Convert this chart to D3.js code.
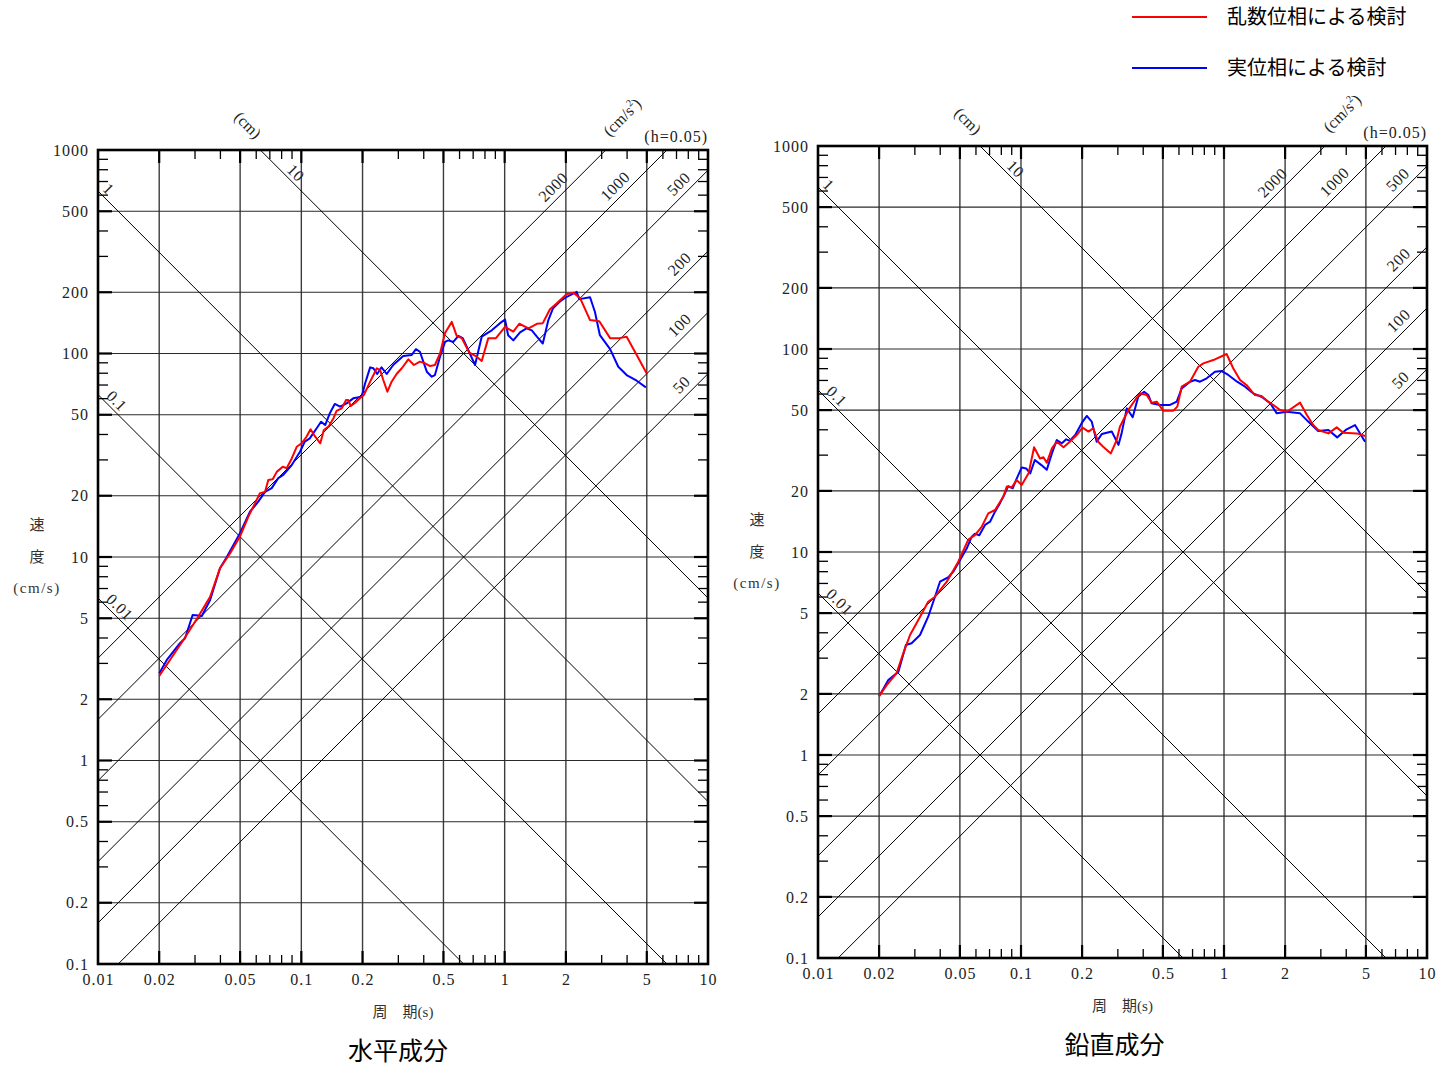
<!DOCTYPE html>
<html><head><meta charset="utf-8">
<script src="https://cdn.jsdelivr.net/npm/d3@7"></script>
<style>body{margin:0;background:#fff}svg{display:block}</style>
</head><body>
<svg id="chart" width="1439" height="1066"></svg>
<script>
// ---------------- data ----------------
const xTickValues = [0.01, 0.02, 0.05, 0.1, 0.2, 0.5, 1, 2, 5, 10];
const xTickLabels = ["0.01", "0.02", "0.05", "0.1", "0.2", "0.5", "1", "2", "5", "10"];
const yTickValues = [0.1, 0.2, 0.5, 1, 2, 5, 10, 20, 50, 100, 200, 500, 1000];
const yTickLabels = ["0.1", "0.2", "0.5", "1", "2", "5", "10", "20", "50", "100", "200", "500", "1000"];
const dispLines = [0.01, 0.1, 1, 10];            // displacement (cm)
const accLines = [2000, 1000, 500, 200, 100, 50]; // acceleration (cm/s2)
const dispLabelPeriods = [0.0128, 0.0124, 0.0113, 0.0942];
const accLabelPeriods = [1.73, 3.49, 7.16, 7.23, 7.23, 7.39];
const legendLabels = ["乱数位相による検討", "実位相による検討"];
const panelTitles = ["水平成分", "鉛直成分"];
const seriesColors = ["#ff0000", "#0000ff"];

// horizontal component: [period (s), velocity (cm/s)]
const hRandom = [[0.02,2.60],[0.0263,3.91],[0.0311,5.09],[0.0356,6.38],[0.0398,8.80],[0.0446,10.4],[0.0499,12.6],[0.0549,15.8],[0.0592,18.4],[0.0626,20.6],[0.0663,20.9],[0.0688,23.9],[0.0723,24.1],[0.0757,26.2],[0.0810,27.8],[0.0847,27.3],[0.0897,30.5],[0.0949,34.8],[0.1004,36.2],[0.106,39.0],[0.111,42.4],[0.117,39.0],[0.124,36.2],[0.129,42.1],[0.136,43.7],[0.144,48.1],[0.149,52.2],[0.158,53.8],[0.166,59.1],[0.170,59.1],[0.175,55.2],[0.184,57.3],[0.194,60.2],[0.203,62.5],[0.218,72.7],[0.235,84.6],[0.244,83.0],[0.253,74.1],[0.265,64.9],[0.278,72.7],[0.294,79.3],[0.312,84.6],[0.336,93.6],[0.358,87.8],[0.383,91.2],[0.406,89.5],[0.430,86.8],[0.454,87.8],[0.481,100],[0.509,126],[0.549,143],[0.581,122],[0.615,119],[0.670,101],[0.729,96.4],[0.771,91.9],[0.831,119],[0.906,119],[1.004,135],[1.103,128],[1.18,140],[1.31,133],[1.44,140],[1.54,141],[1.67,165],[1.80,176],[2.02,196],[2.18,199],[2.35,187],[2.63,146],[2.92,144],[3.30,119],[3.66,119],[3.98,121],[4.46,98.3],[4.99,79.9]];
const hReal = [[0.02,2.68],[0.0218,3.12],[0.0253,3.77],[0.0268,3.99],[0.0292,5.19],[0.0311,5.16],[0.0324,5.13],[0.0356,6.15],[0.0398,8.80],[0.0430,10.0],[0.0499,13.1],[0.0559,16.7],[0.0614,18.7],[0.0663,20.9],[0.0715,21.8],[0.0770,24.4],[0.0815,25.3],[0.0897,28.3],[0.0985,32.9],[0.104,36.9],[0.110,38.3],[0.119,42.9],[0.125,46.2],[0.131,44.5],[0.138,50.8],[0.146,56.5],[0.155,54.8],[0.167,56.9],[0.180,60.2],[0.198,61.3],[0.206,71.4],[0.218,85.5],[0.226,84.6],[0.236,79.3],[0.248,85.5],[0.263,79.3],[0.283,87.8],[0.317,97.2],[0.349,98.3],[0.366,105],[0.383,102],[0.414,81.4],[0.438,76.9],[0.454,78.4],[0.481,96.4],[0.509,114],[0.528,116],[0.559,114],[0.592,122],[0.622,119],[0.662,104],[0.715,87.8],[0.771,121],[0.864,130],[0.949,141],[1.004,147],[1.04,123],[1.103,116],[1.19,127],[1.28,133],[1.36,130],[1.44,121],[1.54,112],[1.64,146],[1.73,167],[1.87,180],[2.02,190],[2.26,201],[2.33,185],[2.63,189],[2.78,160],[2.94,123],[3.30,105],[3.62,86.1],[3.98,78.4],[4.46,73.5],[4.95,68.2]];
// vertical component
const vRandom = [[0.02,1.95],[0.0218,2.21],[0.0244,2.53],[0.0263,3.17],[0.0284,3.90],[0.0312,4.62],[0.0349,5.69],[0.0377,6.02],[0.0431,7.14],[0.0491,8.96],[0.0550,11.5],[0.0593,12.1],[0.0640,13.3],[0.0690,15.5],[0.0745,16.1],[0.0818,18.7],[0.0851,21.0],[0.0900,20.8],[0.0953,22.6],[0.1008,21.4],[0.109,24.4],[0.116,32.8],[0.124,28.9],[0.129,29.3],[0.134,27.5],[0.142,32.4],[0.150,34.9],[0.162,32.8],[0.174,34.9],[0.188,37.7],[0.201,41.0],[0.215,39.2],[0.227,40.7],[0.240,34.9],[0.254,33.0],[0.277,30.6],[0.296,35.6],[0.307,41.4],[0.338,50.1],[0.365,56.1],[0.386,60.5],[0.416,59.3],[0.440,54.4],[0.466,55.0],[0.502,49.7],[0.563,49.7],[0.589,52.0],[0.619,65.2],[0.680,69.0],[0.747,81.8],[0.791,85.0],[0.886,88.2],[1.03,94.5],[1.11,80.4],[1.20,70.4],[1.29,66.5],[1.42,59.3],[1.53,58.7],[1.65,55.0],[1.75,53.0],[1.89,50.1],[2.04,49.1],[2.37,54.4],[2.56,47.3],[2.75,42.2],[2.91,39.9],[3.27,38.4],[3.59,41.1],[3.87,38.7],[4.51,38.4],[4.95,37.3]];
const vReal = [[0.02,1.95],[0.0222,2.34],[0.0249,2.57],[0.0271,3.48],[0.0289,3.55],[0.0318,3.90],[0.0349,4.80],[0.0377,6.02],[0.0399,7.14],[0.0439,7.51],[0.0464,8.00],[0.0501,9.13],[0.0540,10.4],[0.0572,11.9],[0.0593,12.3],[0.0623,12.1],[0.0665,13.6],[0.0704,14.1],[0.0745,15.8],[0.0788,17.4],[0.0834,19.5],[0.0866,21.1],[0.0910,20.6],[0.0945,22.6],[0.1008,26.1],[0.106,25.8],[0.111,24.4],[0.117,28.4],[0.126,26.8],[0.134,25.4],[0.142,30.6],[0.150,35.6],[0.159,34.3],[0.167,35.9],[0.174,35.3],[0.185,37.7],[0.199,43.1],[0.211,46.8],[0.223,43.9],[0.236,34.9],[0.250,38.1],[0.280,39.2],[0.302,33.7],[0.313,38.4],[0.332,51.0],[0.355,46.1],[0.378,58.2],[0.404,61.6],[0.424,59.3],[0.440,54.0],[0.484,53.0],[0.542,53.0],[0.585,55.0],[0.619,64.0],[0.680,69.0],[0.720,70.4],[0.762,69.0],[0.822,71.7],[0.903,77.3],[0.974,77.9],[1.05,74.5],[1.16,69.0],[1.27,65.2],[1.39,60.5],[1.53,58.2],[1.69,54.0],[1.82,48.2],[2.04,49.1],[2.37,48.2],[2.60,43.9],[2.91,39.4],[3.27,39.9],[3.61,36.7],[4.02,40.2],[4.42,42.2],[4.95,34.9]];

// ---------------- drawing ----------------
const SERIF = "'Liberation Serif','Times New Roman',serif";
const CJK = "'Noto Sans CJK JP','Noto Sans',sans-serif";
const svg = d3.select("#chart");
const defs = svg.append("defs");

const panels = [
  {left: 98, right: 708, top: 150, bottom: 964, title: panelTitles[0], titleDx: -5, series: [hReal, hRandom]},
  {left: 818, right: 1427, top: 146, bottom: 958, title: panelTitles[1], titleDx: -8, series: [vReal, vRandom]}
];

const minorMult = [3, 4, 6, 7, 8, 9];
const xMinor = [0.01, 0.1, 1].flatMap(d => minorMult.map(m => d * m));
const yMinor = [0.1, 1, 10, 100].flatMap(d => minorMult.map(m => d * m));
const xMajorInner = xTickValues.slice(1, -1);
const yMajorInner = yTickValues.slice(1, -1);

panels.forEach((p, i) => {
  const g = svg.append("g");
  const x = d3.scaleLog().domain([0.01, 10]).range([p.left, p.right]);
  const y = d3.scaleLog().domain([0.1, 1000]).range([p.bottom, p.top]);
  const clipId = "clip" + i;
  defs.append("clipPath").attr("id", clipId).append("rect")
    .attr("x", p.left).attr("y", p.top).attr("width", p.right - p.left).attr("height", p.bottom - p.top);

  // grid
  g.append("g").selectAll("line").data(xTickValues).join("line")
    .attr("x1", d => x(d)).attr("x2", d => x(d)).attr("y1", p.top).attr("y2", p.bottom)
    .attr("stroke", "#3c3c3c").attr("stroke-width", 1.4);
  g.append("g").selectAll("line").data(yTickValues).join("line")
    .attr("y1", d => y(d)).attr("y2", d => y(d)).attr("x1", p.left).attr("x2", p.right)
    .attr("stroke", "#2a2a2a").attr("stroke-width", 1.2);

  // tripartite diagonals
  const dg = g.append("g").attr("clip-path", `url(#${clipId})`);
  const line2 = d3.line().x(d => x(d[0])).y(d => y(d[1]));
  const Tends = [0.001, 100];
  dispLines.forEach(sd => {
    dg.append("path").attr("d", line2(Tends.map(t => [t, 2 * Math.PI * sd / t])))
      .attr("fill", "none").attr("stroke", "#000").attr("stroke-width", 1);
  });
  accLines.forEach(sa => {
    dg.append("path").attr("d", line2(Tends.map(t => [t, sa * t / (2 * Math.PI)])))
      .attr("fill", "none").attr("stroke", "#000").attr("stroke-width", 1);
  });

  // diagonal labels
  dispLines.forEach((sd, k) => {
    const t = dispLabelPeriods[k];
    const px = x(t), py = y(2 * Math.PI * sd / t) - 13;
    g.append("text").attr("transform", `translate(${px},${py}) rotate(45)`)
      .attr("text-anchor", "middle").attr("dy", "0.35em")
      .attr("font-family", SERIF).attr("font-size", 16).attr("letter-spacing", 0.5)
      .attr("fill", "#222").text(String(sd));
  });
  accLines.forEach((sa, k) => {
    const t = accLabelPeriods[k];
    const px = x(t), py = y(sa * t / (2 * Math.PI)) - 16;
    g.append("text").attr("transform", `translate(${px},${py}) rotate(-45)`)
      .attr("text-anchor", "middle").attr("dy", "0.35em")
      .attr("font-family", SERIF).attr("font-size", 16).attr("letter-spacing", 0.5)
      .attr("fill", "#222").text(String(sa));
  });

  // minor ticks (all four sides, inward)
  const tk = g.append("g").attr("stroke", "#000").attr("stroke-width", 1.3);
  xMinor.forEach(v => {
    tk.append("line").attr("x1", x(v)).attr("x2", x(v)).attr("y1", p.top).attr("y2", p.top + 9);
    tk.append("line").attr("x1", x(v)).attr("x2", x(v)).attr("y1", p.bottom).attr("y2", p.bottom - 9);
  });
  yMinor.forEach(v => {
    tk.append("line").attr("y1", y(v)).attr("y2", y(v)).attr("x1", p.left).attr("x2", p.left + 10);
    tk.append("line").attr("y1", y(v)).attr("y2", y(v)).attr("x1", p.right).attr("x2", p.right - 10);
  });
  const mk = g.append("g").attr("stroke", "#000").attr("stroke-width", 2.2);
  xMajorInner.forEach(v => {
    mk.append("line").attr("x1", x(v)).attr("x2", x(v)).attr("y1", p.top).attr("y2", p.top + 13);
    mk.append("line").attr("x1", x(v)).attr("x2", x(v)).attr("y1", p.bottom).attr("y2", p.bottom - 13);
  });
  yMajorInner.forEach(v => {
    mk.append("line").attr("y1", y(v)).attr("y2", y(v)).attr("x1", p.left).attr("x2", p.left + 14);
    mk.append("line").attr("y1", y(v)).attr("y2", y(v)).attr("x1", p.right).attr("x2", p.right - 14);
  });

  // frame
  g.append("rect").attr("x", p.left).attr("y", p.top)
    .attr("width", p.right - p.left).attr("height", p.bottom - p.top)
    .attr("fill", "none").attr("stroke", "#000").attr("stroke-width", 2.6);

  // series
  const sLine = d3.line().x(d => x(d[0])).y(d => y(d[1]));
  p.series.forEach((s, k) => {
    g.append("path").attr("d", sLine(s)).attr("fill", "none")
      .attr("stroke", seriesColors[1 - k]).attr("stroke-width", 2)
      .attr("stroke-linejoin", "round");
  });

  // axes labels
  const ax = d3.axisBottom(x).tickValues(xTickValues).tickFormat((d, j) => xTickLabels[j])
    .tickSize(0).tickPadding(10);
  g.append("g").attr("transform", `translate(0,${p.bottom})`).call(ax)
    .call(a => a.select(".domain").remove())
    .attr("font-family", SERIF).attr("font-size", 16)
    .selectAll("text").attr("fill", "#222").attr("letter-spacing", 1);
  const ay = d3.axisLeft(y).tickValues(yTickValues).tickFormat((d, j) => yTickLabels[j])
    .tickSize(0).tickPadding(9);
  g.append("g").attr("transform", `translate(${p.left},0)`).call(ay)
    .call(a => a.select(".domain").remove())
    .attr("font-family", SERIF).attr("font-size", 16)
    .selectAll("text").attr("fill", "#222").attr("letter-spacing", 1);

  // unit labels
  g.append("text").attr("transform", `translate(${p.left + 150},${p.top - 25}) rotate(45)`)
    .attr("text-anchor", "middle").attr("dy", "0.35em")
    .attr("font-family", SERIF).attr("font-size", 16).attr("fill", "#222").text("(cm)");
  const acc = g.append("text").attr("transform", `translate(${p.left + 524},${p.top - 33}) rotate(-45)`)
    .attr("text-anchor", "middle").attr("dy", "0.35em")
    .attr("font-family", SERIF).attr("font-size", 16).attr("fill", "#222");
  acc.append("tspan").text("(cm/s");
  acc.append("tspan").attr("font-size", 10).attr("dy", "-0.7em").text("2");
  acc.append("tspan").attr("dy", "0.45em").text(")");
  g.append("text").attr("x", p.right).attr("y", p.top - 8)
    .attr("text-anchor", "end").attr("font-family", SERIF).attr("font-size", 16)
    .attr("letter-spacing", 1).attr("fill", "#222").text("(h=0.05)");

  // axis titles
  const yc = y(10);
  g.append("text").attr("x", p.left - 61).attr("y", yc - 32).attr("dy", "0.35em").attr("text-anchor", "middle")
    .attr("font-family", CJK).attr("font-size", 15).attr("fill", "#333").text("速");
  g.append("text").attr("x", p.left - 61).attr("y", yc).attr("dy", "0.35em").attr("text-anchor", "middle")
    .attr("font-family", CJK).attr("font-size", 15).attr("fill", "#333").text("度");
  g.append("text").attr("x", p.left - 61).attr("y", yc + 31).attr("dy", "0.35em").attr("text-anchor", "middle")
    .attr("font-family", SERIF).attr("font-size", 15).attr("letter-spacing", 1.5).attr("fill", "#333").text("(cm/s)");
  const xt = g.append("text").attr("x", (p.left + p.right) / 2).attr("y", p.bottom + 48).attr("dy", "0.35em")
    .attr("text-anchor", "middle").attr("font-size", 15).attr("fill", "#333");
  xt.append("tspan").attr("font-family", CJK).text("周\u3000期");
  xt.append("tspan").attr("font-family", SERIF).text("(s)");

  // panel title
  g.append("text").attr("x", (p.left + p.right) / 2 + p.titleDx).attr("y", p.bottom + 87).attr("dy", "0.35em")
    .attr("text-anchor", "middle").attr("font-family", CJK).attr("font-size", 25).attr("font-weight", 400)
    .attr("fill", "#000").text(p.title);
});

// legend
const lg = svg.append("g");
legendLabels.forEach((lab, k) => {
  const ly = 17 + k * 51;
  lg.append("line").attr("x1", 1132).attr("x2", 1207).attr("y1", ly).attr("y2", ly)
    .attr("stroke", seriesColors[k]).attr("stroke-width", 2.2);
  lg.append("text").attr("x", 1227).attr("y", ly).attr("dy", "0.35em")
    .attr("font-family", CJK).attr("font-size", 20).attr("fill", "#000").text(lab);
});
</script>
</body></html>
